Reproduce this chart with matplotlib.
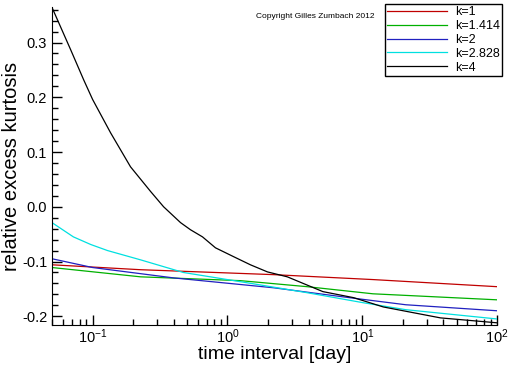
import matplotlib
matplotlib.use("Agg")
import matplotlib.pyplot as plt
from matplotlib.ticker import MultipleLocator, LogLocator

plt.rcParams["font.family"] = ["Liberation Sans", "DejaVu Sans"]
plt.rcParams["mathtext.fontset"] = "custom"
plt.rcParams["mathtext.rm"] = "Liberation Sans"
plt.rcParams["mathtext.it"] = "Liberation Sans"

# values
x_k1 = [0.05, 0.227, 2.2, 12, 100]
y_k1 = [-0.106, -0.115, -0.124, -0.133, -0.146]

x_k1414 = [0.05, 0.227, 1.25, 3.9, 12, 100]
y_k1414 = [-0.111, -0.128, -0.135, -0.146, -0.159, -0.170]

x_k2 = [0.05, 0.1, 0.4, 2.2, 6.9, 21, 100]
y_k2 = [-0.095, -0.111, -0.130, -0.148, -0.164, -0.179, -0.190]

x_k2828 = [0.05, 0.072, 0.097, 0.129, 0.227, 0.47, 1.41, 3.9, 10, 21, 100]
y_k2828 = [-0.029, -0.055, -0.069, -0.080, -0.097, -0.120, -0.139, -0.157,
           -0.175, -0.188, -0.205]

x_k4 = [0.05, 0.0687, 0.0858, 0.1, 0.136, 0.191, 0.269, 0.336, 0.449, 0.532,
        0.653, 0.815, 1.107, 1.48, 1.98, 2.78, 5.1, 8.6, 14.3, 38, 100]
y_k4 = [0.364, 0.287, 0.232, 0.196, 0.135, 0.073, 0.028, 0.0, -0.029, -0.042,
        -0.055, -0.075, -0.091, -0.106, -0.119, -0.128, -0.155, -0.166, -0.183,
        -0.203, -0.212]

labels = ["k=1", "k=1.414", "k=2", "k=2.828", "k=4"]
colors = ["#c00000", "#00b000", "#2020c0", "#00e0e0", "black"]

fig = plt.figure(figsize=(5.12, 3.66), dpi=100)
ax = fig.add_axes([0.1016, 0.112, 0.8694, 0.869])

series = [(x_k1, y_k1), (x_k1414, y_k1414), (x_k2, y_k2), (x_k2828, y_k2828), (x_k4, y_k4)]
for (xs, ys), lab, c in zip(series, labels, colors):
    ax.plot(xs, ys, color=c, lw=0.9, label=lab)

ax.set_xscale("log")
ax.set_xlim(0.05, 100)
ax.set_ylim(-0.216, 0.365)
ax.yaxis.set_major_locator(MultipleLocator(0.1))
ax.yaxis.set_minor_locator(MultipleLocator(0.02))
ax.xaxis.set_major_locator(LogLocator(base=10))
ax.xaxis.set_minor_locator(LogLocator(base=10, subs=range(2, 10)))
ax.yaxis.set_major_formatter(plt.FuncFormatter(lambda v, p: "%.1f" % v))

ax.spines["top"].set_visible(False)
ax.spines["right"].set_visible(False)
ax.tick_params(which="both", direction="in", labelsize=10.5)
ax.tick_params(which="major", length=7, width=1)
ax.tick_params(which="minor", length=4, width=1)
ax.tick_params(axis="x", pad=2)

ax.set_xlabel("time interval [day]", fontsize=14, labelpad=0)
ax.set_ylabel("relative excess kurtosis", fontsize=14.5, labelpad=1)

fig.text(0.5, 0.951, "Copyright Gilles Zumbach 2012", fontsize=6)

leg = fig.legend(loc="upper right", bbox_to_anchor=(0.981, 0.99), fontsize=9,
                 fancybox=False, framealpha=1, edgecolor="black",
                 labelspacing=0.15, borderpad=0.2, handlelength=4.8,
                 handletextpad=0.6, borderaxespad=0)
leg.get_frame().set_linewidth(1)

fig.savefig("out.png", dpi=100)
